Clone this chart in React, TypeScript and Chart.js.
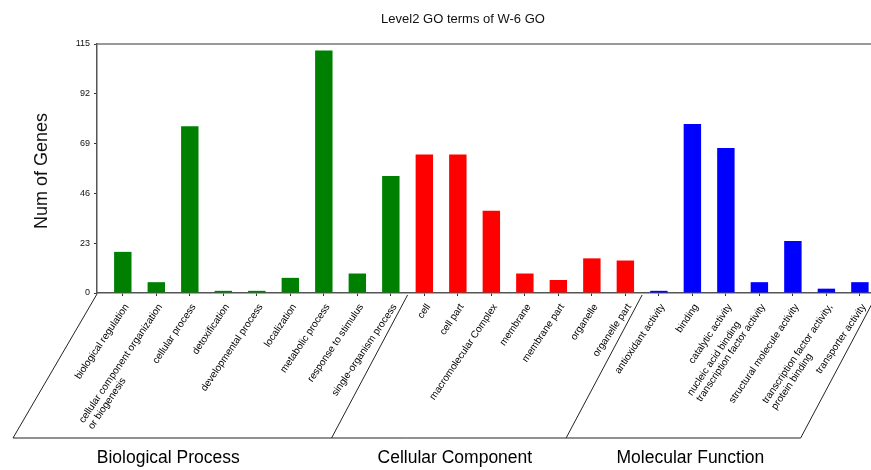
import React, { useEffect, useRef } from "react";
import { Chart, registerables } from "chart.js";

Chart.register(...registerables);

const chartTitle = "Level2 GO terms of W-6 GO";
const yAxisTitle = "Num of Genes";

const categories: string[][] = [
  ["biological regulation"],
  ["cellular component organization", "or biogenesis"],
  ["cellular process"],
  ["detoxification"],
  ["developmental process"],
  ["localization"],
  ["metabolic process"],
  ["response to stimulus"],
  ["single-organism process"],
  ["cell"],
  ["cell part"],
  ["macromolecular Complex"],
  ["membrane"],
  ["membrane part"],
  ["organelle"],
  ["organelle part"],
  ["antioxidant activity"],
  ["binding"],
  ["catalytic activity"],
  ["nucleic acid binding", "transcription factor activity"],
  ["structural molecule activity"],
  ["transcription factor activity,", "protein binding"],
  ["transporter activity"],
];

const bpValues = [19, 5, 77, 1, 1, 7, 112, 9, 54];
const ccValues = [64, 64, 38, 9, 6, 16, 15];
const mfValues = [1, 78, 67, 5, 24, 2, 5];

const groupNames = ["Biological Process", "Cellular Component", "Molecular Function"];
const groupColors = ["#008000", "#ff0000", "#0000ff"];

const yTicks = [0, 23, 46, 69, 92, 115];

const FONT = '"Liberation Sans", Arial, Helvetica, sans-serif';

const groupValues = [bpValues, ccValues, mfValues];
const allValues = groupValues.flat();
const barColors = groupValues.flatMap((g, gi) => g.map(() => groupColors[gi]));

const decorPlugin = {
  id: "decor",
  afterDraw(chart: any) {
    const { ctx, chartArea } = chart;
    const xs = chart.scales.x;
    const left = chartArea.left;
    const bottom = chartArea.bottom;
    ctx.save();

    // top frame line
    ctx.strokeStyle = "#777";
    ctx.lineWidth = 1.5;
    ctx.beginPath();
    ctx.moveTo(left, chartArea.top);
    ctx.lineTo(chartArea.right, chartArea.top);
    ctx.stroke();

    // title
    ctx.fillStyle = "#111";
    ctx.font = `13px ${FONT}`;
    ctx.textAlign = "center";
    ctx.textBaseline = "middle";
    ctx.fillText(chartTitle, left + 366, 19);

    // y axis title
    ctx.save();
    ctx.translate(42, 171);
    ctx.rotate(-Math.PI / 2);
    ctx.font = `18px ${FONT}`;
    ctx.fillText(yAxisTitle, 0, 0);
    ctx.restore();

    // x category labels, rotated
    const ang = (56 * Math.PI) / 180;
    ctx.font = `10px ${FONT}`;
    ctx.textAlign = "left";
    ctx.textBaseline = "middle";
    ctx.fillStyle = "#000";
    categories.forEach((lines, i) => {
      const px = xs.getPixelForValue(i);
      const widths = lines.map((l) => ctx.measureText(l).width);
      const maxW = Math.max(...widths);
      const k = widths.indexOf(maxW);
      ctx.save();
      ctx.translate(px + 4, bottom + 12);
      ctx.rotate(-ang);
      lines.forEach((l, j) => ctx.fillText(l, -maxW, (j - k) * 11));
      ctx.restore();
    });

    // group separators
    const lineTop = bottom + 2;
    const lineBottom = 438;
    const slantDx = 76;
    let idx = 0;
    const bounds: number[] = [];
    groupValues.forEach((g) => {
      idx += g.length;
      bounds.push(xs.getPixelForValue(idx - 0.5));
    });
    const bottomXs = [13, ...bounds.map((b) => b - slantDx)];
    ctx.strokeStyle = "#222";
    ctx.lineWidth = 1;
    ctx.beginPath();
    ctx.moveTo(left, bottom + 1);
    ctx.lineTo(bottomXs[0], lineBottom);
    bounds.forEach((b, i) => {
      ctx.moveTo(b, lineTop);
      ctx.lineTo(bottomXs[i + 1], lineBottom);
    });
    ctx.moveTo(bottomXs[0], lineBottom);
    ctx.lineTo(bottomXs[bottomXs.length - 1], lineBottom);
    ctx.stroke();

    // group names
    const nameShift = [-4, 6, 7];
    ctx.font = `17.5px ${FONT}`;
    ctx.textAlign = "center";
    ctx.textBaseline = "middle";
    ctx.fillStyle = "#000";
    groupNames.forEach((name, i) => {
      const cx = (bottomXs[i] + bottomXs[i + 1]) / 2 + nameShift[i];
      ctx.fillText(name, cx, 458);
    });

    ctx.restore();
  },
};

export default function App() {
  const ref = useRef<HTMLCanvasElement>(null);
  useEffect(() => {
    const chart = new Chart(ref.current as HTMLCanvasElement, {
      type: "bar",
      data: {
        datasets: [
          {
            data: allValues.map((v, i) => ({ x: i, y: v })),
            backgroundColor: barColors,
            borderWidth: 0,
            barPercentage: 0.65,
            categoryPercentage: 0.8,
          },
        ],
      },
      plugins: [decorPlugin],
      options: {
        animation: false,
        responsive: false,
        maintainAspectRatio: false,
        layout: { padding: { top: 44, right: 10, left: 0, bottom: 0 } },
        plugins: {
          legend: { display: false },
          title: { display: false },
          tooltip: { enabled: false },
        },
        scales: {
          x: {
            type: "linear",
            offset: false,
            min: -0.77,
            max: 22.6,
            afterBuildTicks(s: any) {
              s.ticks = categories.map((_, i) => ({ value: i }));
            },
            afterFit(s: any) {
              s.height = 177;
            },
            ticks: { display: false },
            grid: { offset: false, drawOnChartArea: false, drawTicks: true, tickLength: 3, color: "#333" },
            border: { display: true, color: "#555", width: 1.5 },
          },
          y: {
            min: 0,
            max: 115,
            afterBuildTicks(s: any) {
              s.ticks = yTicks.map((v) => ({ value: v }));
            },
            afterFit(s: any) {
              s.width = 97;
            },
            ticks: { font: { size: 9, family: FONT }, color: "#111", padding: 4 },
            grid: { drawOnChartArea: false, tickLength: 3, color: "#333" },
            border: { display: true, color: "#555", width: 1.5 },
          },
        },
      },
    } as any);
    return () => chart.destroy();
  }, []);
  return (
    <div
      style={{
        position: "fixed",
        left: 0,
        top: 0,
        width: 871,
        height: 470,
        overflow: "hidden",
        background: "#fff",
      }}
    >
      <canvas ref={ref} width={890} height={470} style={{ display: "block" }} />
    </div>
  );
}
